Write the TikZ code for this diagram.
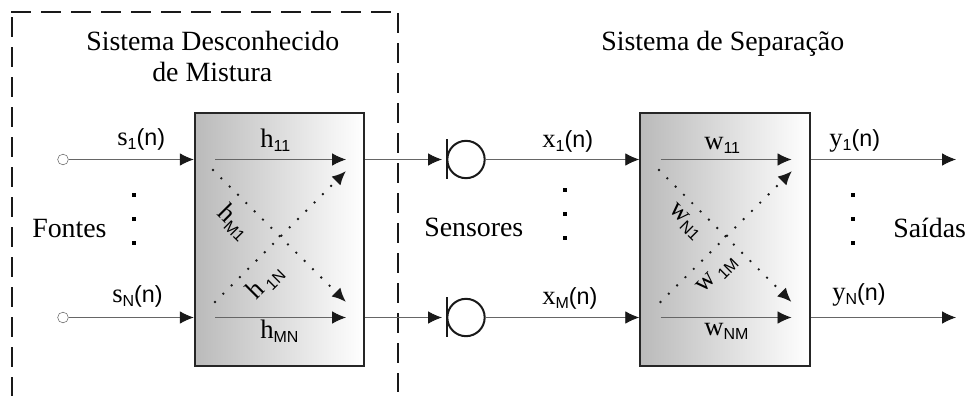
\documentclass[tikz,border=0pt]{standalone}
\usepackage{fontspec}
\setmainfont{Liberation Serif}
\setsansfont{Liberation Sans}
\usetikzlibrary{arrows.meta}
\tikzset{
  x=0.75pt,y=-0.75pt,
  wire/.style={draw=black!60,line width=0.7pt},
  arr/.style={wire,-{Latex[black!90,length=10.5pt,width=9.5pt]}},
  dotarr/.style={draw=black!90,line width=2pt,line cap=round,dash pattern=on 0pt off 8.8pt,-{Latex[black!90,length=10.5pt,width=9.5pt]}},
  mixbox/.style={draw=black!85,line width=1.6pt,left color=black!27,right color=white,inner sep=0pt,minimum width=127pt,minimum height=190pt},
  termin/.style={circle,draw=black!60,line width=0.4pt,minimum size=8pt,inner sep=0pt},
  vdot/.style={fill=black,minimum size=3.6pt,inner sep=0pt},
  big/.style={font=\fontsize{20.9}{25}\selectfont,anchor=base west,inner sep=0pt},
  lab/.style={font=\fontsize{20}{22}\selectfont,inner sep=0pt,anchor=base west},
  rlab/.style={font=\fontsize{20}{22}\selectfont,inner sep=0pt},
  mic/.style={circle,draw=black!90,line width=1.5pt,minimum size=28pt,inner sep=0pt},
  micbar/.style={draw=black!90,line width=1.5pt},
  frame line/.style={draw=black!90,line width=1.9pt,dash pattern=on 15pt off 7.5pt}
}
\newcommand{\sbs}[1]{\raisebox{-3.5pt}{\sffamily\fontsize{12}{12}\selectfont #1}}
\newcommand{\sfn}{{\sffamily\fontsize{17.5}{17.5}\selectfont(n)}}
\begin{document}
\begin{tikzpicture}
\useasboundingbox (0,0) rectangle (966,396);
% dashed frame
\coordinate (fa) at (12,17);
\coordinate (fb) at (12,396);
\coordinate (fc) at (11,12);
\coordinate (fd) at (392,12);
\coordinate (fe) at (398,13);
\coordinate (ff) at (398,392);
\draw[frame line] (fa) -- (fb);
\draw[frame line] (fc) -- (fd);
\draw[frame line] (fe) -- (ff);
% boxes
\node[mixbox] (b1) at (279.5,239.5) {};
\node[mixbox] (b2) at (725,239.5) {};
% terminals
\node[termin] (t1) at (63,159.5) {};
\node[termin] (t2) at (63,317.5) {};
\draw[arr] (t1) -- (t1-|b1.west);
\draw[arr] (t2) -- (t2-|b1.west);
% microphones
\node[mic] (m1) at (466,159.5) {};
\node[mic] (m2) at (466,317.5) {};
\coordinate (b1a) at (446.5,139); \coordinate (b1b) at (446.5,179);
\coordinate (b2a) at (446.5,297); \coordinate (b2b) at (446.5,337);
\draw[micbar] (b1a) -- (b1b);
\draw[micbar] (b2a) -- (b2b);
\coordinate (i1) at (442,159.5);
\coordinate (i2) at (442,317.5);
\draw[arr] (m1-|b1.east) -- (i1);
\draw[arr] (m2-|b1.east) -- (i2);
\draw[arr] (m1) -- (m1-|b2.west);
\draw[arr] (m2) -- (m2-|b2.west);
% outputs
\coordinate (o1) at (956,159.5);
\coordinate (o2) at (956,317.5);
\draw[arr] (m1-|b2.east) -- (o1);
\draw[arr] (m2-|b2.east) -- (o2);
% inner arrows box 1
\coordinate (a1) at (215,159.5); \coordinate (a2) at (346,159.5);
\coordinate (a3) at (215,317.5); \coordinate (a4) at (346,317.5);
\coordinate (a5) at (213,170); \coordinate (a6) at (346,302);
\coordinate (a7) at (215,302); \coordinate (a8) at (346,171);
\draw[arr] (a1) -- (a2);
\draw[arr] (a3) -- (a4);
\draw[dotarr] (a5) -- (a6);
\draw[dotarr] (a7) -- (a8);
% inner arrows box 2
\coordinate (c1) at (660.5,159.5); \coordinate (c2) at (791.5,159.5);
\coordinate (c3) at (660.5,317.5); \coordinate (c4) at (791.5,317.5);
\coordinate (c5) at (659,170); \coordinate (c6) at (791.5,302);
\coordinate (c7) at (660.5,302); \coordinate (c8) at (792,171);
\draw[arr] (c1) -- (c2);
\draw[arr] (c3) -- (c4);
\draw[dotarr] (c5) -- (c6);
\draw[dotarr] (c7) -- (c8);
% vertical dots
\foreach \n/\x/\y in {d1/134/195,d2/134/219,d3/134/243,d4/565/190,d5/565/214,d6/565/238,d7/853/195,d8/853/219,d9/853/243}
  \node[vdot] (\n) at (\x,\y) {};
% texts
\node[big] (tt1) at (86,50) {Sistema Desconhecido};
\node[big] (tt2) at (152,81) {de Mistura};
\node[big] (tt3) at (601,50) {Sistema de Separação};
\node[big] (fo) at (32,237) {Fontes};
\node[big] (se) at (424,236) {Sensores};
\node[big] (sa) at (893,237) {Saídas};
\node[lab] (ls1) at (117,145) {s\sbs{1}\sfn};
\node[lab] (ls2) at (112,302) {s\sbs{N}\sfn};
\node[lab] (lx1) at (542,147) {x\sbs{1}\sfn};
\node[lab] (lx2) at (542,304) {x\sbs{M}\sfn};
\node[lab] (ly1) at (829,146) {y\sbs{1}\sfn};
\node[lab] (ly2) at (832,300) {y\sbs{N}\sfn};
\node[lab] (h1) at (260,147) {h\sbs{11}};
\node[lab] (h2) at (260,338) {h\sbs{MN}};
\node[rlab,rotate=-45] (h3) at (234,222) {h\sbs{M1}};
\node[rlab,rotate=45] (h4) at (265,282) {h\,\sbs{1N}};
\node[lab] (w1) at (704,149) {w\sbs{11}};
\node[lab] (w2) at (704,335) {w\sbs{NM}};
\node[rlab,rotate=-45] (w3) at (685,222) {w\sbs{N1}};
\node[rlab,rotate=45] (w4) at (717.5,275) {w\,\sbs{1M}};
\end{tikzpicture}
\end{document}
